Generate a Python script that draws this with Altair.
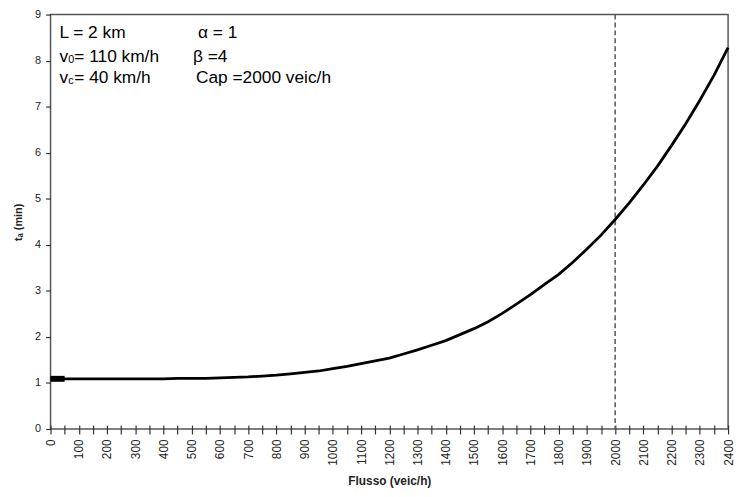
import altair as alt
import pandas as pd

# ---- data ----
FLOW = list(range(0, 2401, 50))
TIME = [1.09, 1.09, 1.09, 1.09, 1.09, 1.09, 1.09, 1.09, 1.09, 1.10,
        1.10, 1.10, 1.11, 1.12, 1.13, 1.15, 1.17, 1.20, 1.23, 1.26,
        1.31, 1.36, 1.42, 1.48, 1.54, 1.63, 1.72, 1.82, 1.92, 2.05,
        2.18, 2.33, 2.51, 2.71, 2.92, 3.14, 3.36, 3.62, 3.91, 4.21,
        4.55, 4.91, 5.30, 5.71, 6.16, 6.63, 7.14, 7.68, 8.28]
CAPACITY = [2000]
X_TICKS = list(range(0, 2401, 50))
Y_TICKS = list(range(0, 10))
X_TITLE = "Flusso (veic/h)"
Y_TITLE = "tₐ (min)"
# annotation text pieces
LINE1 = ["L = 2 km", "α = 1"]
LINE2 = ["v", "0", "= 110 km/h", "β =4"]
LINE3 = ["v", "c", " = 40 km/h", "Cap =2000 veic/h"]

FONT = "Liberation Sans"

df = pd.DataFrame({"flow": FLOW, "time": TIME})
cap_df = pd.DataFrame({"flow": CAPACITY})

x_enc = alt.X(
    "flow:Q",
    scale=alt.Scale(domain=[0, 2400], nice=False, zero=True),
    axis=alt.Axis(
        values=X_TICKS,
        labelExpr="datum.value % 100 == 0 ? datum.label : ''",
        format="d",
        labelAngle=-90,
        tickSize=9,
        offset=-4,
        domain=False,
        grid=False,
        labelFontSize=12,
        labelPadding=5,
        labelFont=FONT,
        labelColor="#222",
        tickColor="#333",
        tickWidth=1.2,
        title=X_TITLE,
        titleFont=FONT,
        titleFontSize=12,
        titleFontWeight="bold",
        titlePadding=10,
        titleColor="#222",
    ),
)
y_enc = alt.Y(
    "time:Q",
    scale=alt.Scale(domain=[0, 9], nice=False),
    axis=alt.Axis(
        values=Y_TICKS,
        tickSize=5,
        domain=False,
        grid=False,
        labelFontSize=11,
        labelPadding=5,
        labelFont=FONT,
        labelColor="#222",
        tickColor="#333",
        tickWidth=1.2,
        title=Y_TITLE,
        titleFont=FONT,
        titleFontSize=11,
        titleFontWeight="bold",
        titlePadding=11,
        titleColor="#222",
    ),
)

base = alt.Chart(df)
curve = base.mark_line(color="black", strokeWidth=2.8).encode(x=x_enc, y=y_enc)
blob = base.transform_filter("datum.flow <= 50").mark_line(
    color="black", strokeWidth=6
).encode(x=x_enc, y=y_enc)
cap_rule = alt.Chart(cap_df).mark_rule(
    color="#555", strokeDash=[5, 3], strokeWidth=1.5
).encode(x=x_enc)


def label(text, px, py, size=17.5):
    return alt.Chart(pd.DataFrame({"t": [text]})).mark_text(
        align="left", baseline="middle", font=FONT, fontSize=size, color="black"
    ).encode(x=alt.value(px), y=alt.value(py), text="t:N")


texts = [
    label(LINE1[0], 9, 19),
    label(LINE1[1], 149, 19),
    label(LINE2[0], 9, 43),
    label(LINE2[1], 18, 46, 11),
    label(LINE2[2], 24, 43),
    label(LINE2[3], 144, 43),
    label(LINE3[0], 9, 64),
    label(LINE3[1], 18, 67, 11),
    label(LINE3[2], 24, 64),
    label(LINE3[3], 147, 64),
]

chart = alt.layer(cap_rule, curve, blob, *texts).properties(
    width=685,
    height=419,
    padding={"left": 43, "top": 4, "right": 8, "bottom": 58},
    autosize=alt.AutoSizeParams(type="none"),
    background="white",
).configure_view(stroke="#555", strokeWidth=1.5)

chart.save("out.html", embed_options={"renderer": "svg", "actions": False})
